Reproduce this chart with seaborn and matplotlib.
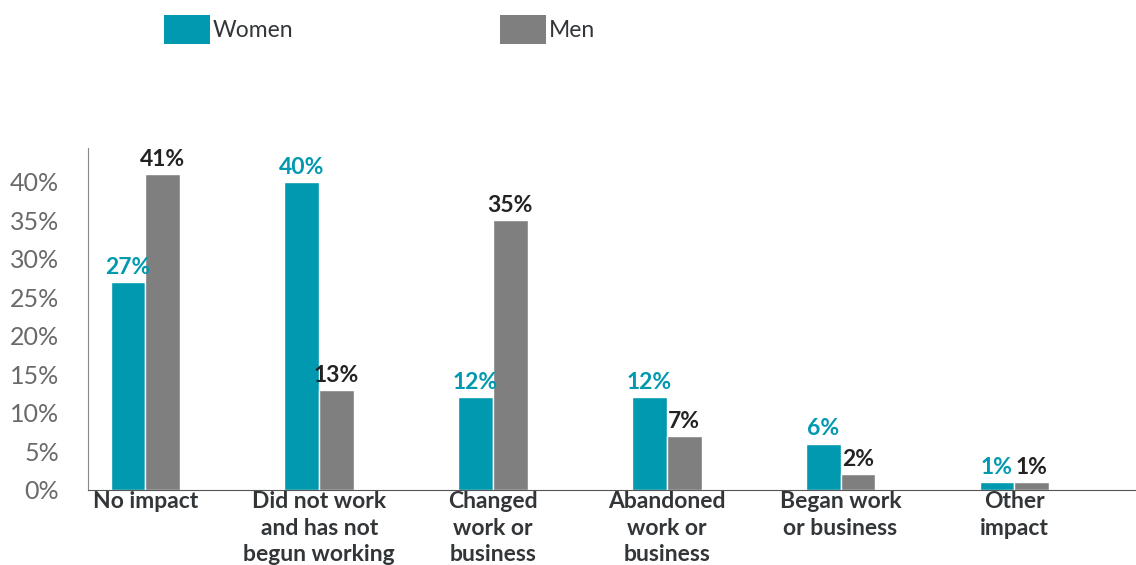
import numpy as np
import pandas as pd
import matplotlib
matplotlib.use("Agg")
import matplotlib.pyplot as plt
import seaborn as sns
from matplotlib.patches import Patch

categories = ["No impact", "Did not work\nand has not\nbegun working", "Changed\nwork or\nbusiness",
              "Abandoned\nwork or\nbusiness", "Began work\nor business", "Other\nimpact"]
women = [27, 40, 12, 12, 6, 1]
men = [41, 13, 35, 7, 2, 1]
groups = ["Women", "Men"]
yticks = [0, 5, 10, 15, 20, 25, 30, 35, 40]

teal = "#0099B0"
grey = "#7F7F80"
text_dark = "#333638"

sns.set_style("white")
plt.rcParams['font.family'] = ['Lato', 'DejaVu Sans']

df = pd.DataFrame({
    "category": categories * 2,
    "group": ["Women"] * len(categories) + ["Men"] * len(categories),
    "value": women + men,
})

fig = plt.figure(figsize=(11.36, 5.65), dpi=100)
ax = fig.add_axes([0.0775, 0.133, 0.9225, 0.605])

sns.barplot(data=df, x="category", y="value", hue="group", hue_order=groups,
            palette=[teal, grey], width=0.4, saturation=1, legend=False, ax=ax)

for cont, col in zip(ax.containers, [teal, "#222222"]):
    ax.bar_label(cont, labels=[f"{v:.0f}%" for v in cont.datavalues], padding=3,
                 color=col, fontsize=16.5, fontweight="bold")

ax.set_ylim(0, 44.4)
ax.set_xlim(-0.33, 5.70)
ax.set_yticks(yticks)
ax.set_yticklabels([f"{t}%" for t in yticks], fontsize=18, color="#6a6a6a", fontweight="normal")
ax.set_xticks(range(len(categories)))
ax.set_xticklabels(categories, fontsize=16.5, fontweight="bold", color=text_dark,
                   linespacing=1.32, va="top")
ax.tick_params(axis="both", length=0)
ax.tick_params(axis="x", pad=1)
ax.tick_params(axis="y", pad=21)
ax.set_xlabel("")
ax.set_ylabel("")
for s in ["top", "right"]:
    ax.spines[s].set_visible(False)
ax.spines["left"].set_color("#888888")
ax.spines["bottom"].set_color("#555555")

handles = [Patch(facecolor=teal, edgecolor="none"), Patch(facecolor=grey, edgecolor="none")]
fig.legend(handles, groups, loc="upper left", bbox_to_anchor=(0.126, 1.01), ncol=2,
           frameon=False, fontsize=16.5, handlelength=2.0, handleheight=1.6,
           handletextpad=0.15, columnspacing=9.0, labelcolor=text_dark)

fig.savefig("out.png", dpi=100)
